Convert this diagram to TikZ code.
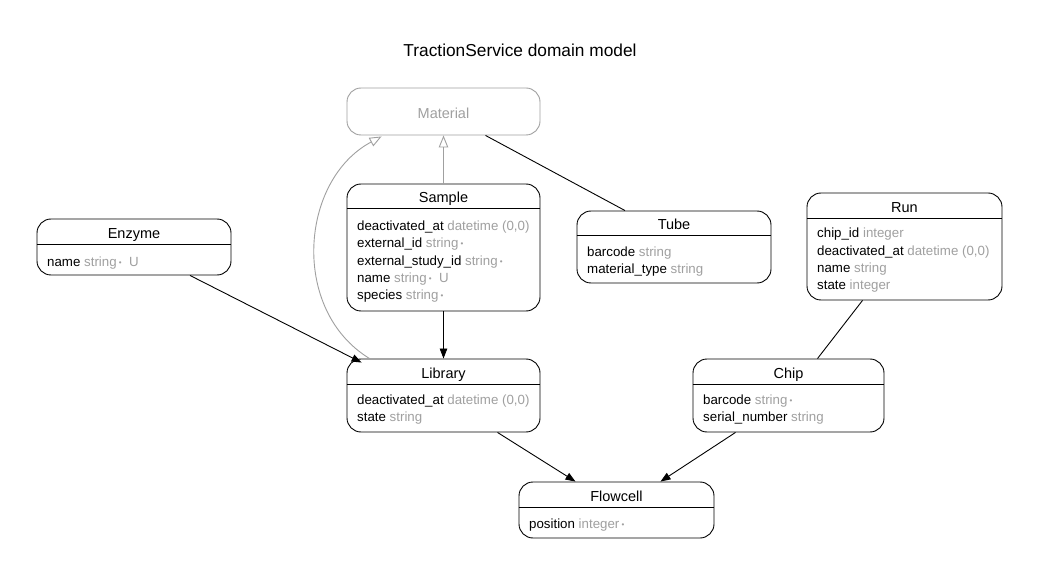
\documentclass[tikz,border=0pt]{standalone}
\usepackage{fontspec}
\setmainfont{Liberation Sans}
\usetikzlibrary{arrows.meta}
\definecolor{attrgray}{HTML}{A0A0A0}
\definecolor{edgegray}{HTML}{A0A0A0}
\newcommand\mand{\,{\fontsize{8}{8}\selectfont\raisebox{0.9pt}{\textbullet}}}
\newcommand\ty[1]{\textcolor{attrgray}{#1}}
\tikzset{
  entbox/.style={draw=black, line width=0.9pt, rounded corners=14pt, inner sep=0pt},
  matbox/.style={draw=edgegray, line width=0.9pt, rounded corners=14pt, inner sep=0pt},
  enttitle/.style={font=\fontsize{14.5}{16}\selectfont, anchor=mid, inner sep=0pt, yshift=-3.5pt},
  attr/.style={font=\fontsize{13.3}{15}\selectfont, anchor=mid west, inner sep=0pt, yshift=-3.5pt},
  hdr/.style={line width=0.9pt},
  rel/.style={line width=0.9pt, -{Triangle[length=10pt,width=7.5pt]}},
  plain/.style={line width=0.9pt},
  gen/.style={draw=edgegray, line width=0.9pt, -{Triangle[open,length=12pt,width=9.5pt]}},
}
\begin{document}
\begin{tikzpicture}[x=1pt,y=-1pt]
\useasboundingbox[fill=white] (0,0) rectangle (1039,577);

\node[font=\fontsize{17.3}{19}\selectfont, anchor=mid, yshift=-4pt] (title) at (520,50) {TractionService domain model};

% Material
\node[matbox, minimum width=193pt, minimum height=47pt] (material) at (443.5,111.5) {};
\node[enttitle, text=edgegray] (materialt) at (443.5,112) {Material};

% Sample
\node[entbox, minimum width=193pt, minimum height=127pt] (sample) at (443.5,247.5) {};
\draw[hdr] (sample.west |- 0,208) -- (sample.east |- 0,208);
\node[enttitle] (samplet) at (443.5,196.5) {Sample};
\node[attr] (s1) at (357,224) {deactivated\_at \ty{datetime (0,0)}};
\node[attr] (s2) at (357,241.5) {external\_id \ty{string\mand}};
\node[attr] (s3) at (357,259) {external\_study\_id \ty{string\mand}};
\node[attr] (s4) at (357,276) {name \ty{string\mand\ \ U}};
\node[attr] (s5) at (357,293) {species \ty{string\mand}};

% Enzyme
\node[entbox, minimum width=194pt, minimum height=56pt] (enzyme) at (134,247) {};
\draw[hdr] (enzyme.west |- 0,244) -- (enzyme.east |- 0,244);
\node[enttitle] (enzymet) at (134,232) {Enzyme};
\node[attr] (e1) at (47,260) {name \ty{string\mand\ \ U}};

% Tube
\node[entbox, minimum width=194pt, minimum height=72pt] (tube) at (674,247) {};
\draw[hdr] (tube.west |- 0,235) -- (tube.east |- 0,235);
\node[enttitle] (tubet) at (674,223.5) {Tube};
\node[attr] (t1) at (587,250.5) {barcode \ty{string}};
\node[attr] (t2) at (587,267) {material\_type \ty{string}};

% Run
\node[entbox, minimum width=195pt, minimum height=107pt] (run) at (904.5,246.5) {};
\draw[hdr] (run.west |- 0,218) -- (run.east |- 0,218);
\node[enttitle] (runt) at (904.5,206) {Run};
\node[attr] (r1) at (817,231) {chip\_id \ty{integer}};
\node[attr] (r2) at (817,249) {deactivated\_at \ty{datetime (0,0)}};
\node[attr] (r3) at (817,266) {name \ty{string}};
\node[attr] (r4) at (817,283.5) {state \ty{integer}};

% Library
\node[entbox, minimum width=193pt, minimum height=73pt] (library) at (443.5,395.5) {};
\draw[hdr] (library.west |- 0,384) -- (library.east |- 0,384);
\node[enttitle] (libraryt) at (443.5,372) {Library};
\node[attr] (l1) at (357,398) {deactivated\_at \ty{datetime (0,0)}};
\node[attr] (l2) at (357,415) {state \ty{string}};

% Chip
\node[entbox, minimum width=191pt, minimum height=73pt] (chip) at (788.5,395.5) {};
\draw[hdr] (chip.west |- 0,384) -- (chip.east |- 0,384);
\node[enttitle] (chipt) at (788.5,372) {Chip};
\node[attr] (c1) at (703,398) {barcode \ty{string\mand}};
\node[attr] (c2) at (703,415) {serial\_number \ty{string}};

% Flowcell
\node[entbox, minimum width=195pt, minimum height=56pt] (flowcell) at (616.5,510) {};
\draw[hdr] (flowcell.west |- 0,507) -- (flowcell.east |- 0,507);
\node[enttitle] (flowcellt) at (616.5,495) {Flowcell};
\node[attr] (f1) at (529,522) {position \ty{integer\mand}};

% connectors
\draw[gen] (sample.north) -- (material.south);
\draw[gen] ([xshift=23pt]library.north west) .. controls (290,310) and (300,180) .. ([xshift=35pt,yshift=-1pt]material.south west);
\draw[plain] ([xshift=42pt]material.south) -- ([xshift=-49pt]tube.north);
\draw[rel] (sample.south) -- (library.north);
\draw[rel] ([xshift=56pt]enzyme.south) -- ([xshift=15pt,yshift=-4pt]library.north west);
\draw[plain] ([xshift=-42pt]run.south) -- ([xshift=29pt]chip.north);
\draw[rel] ([xshift=54pt]library.south) -- ([xshift=-41pt]flowcell.north);
\draw[rel] ([xshift=-53pt]chip.south) -- ([xshift=44pt]flowcell.north);
\end{tikzpicture}
\end{document}
